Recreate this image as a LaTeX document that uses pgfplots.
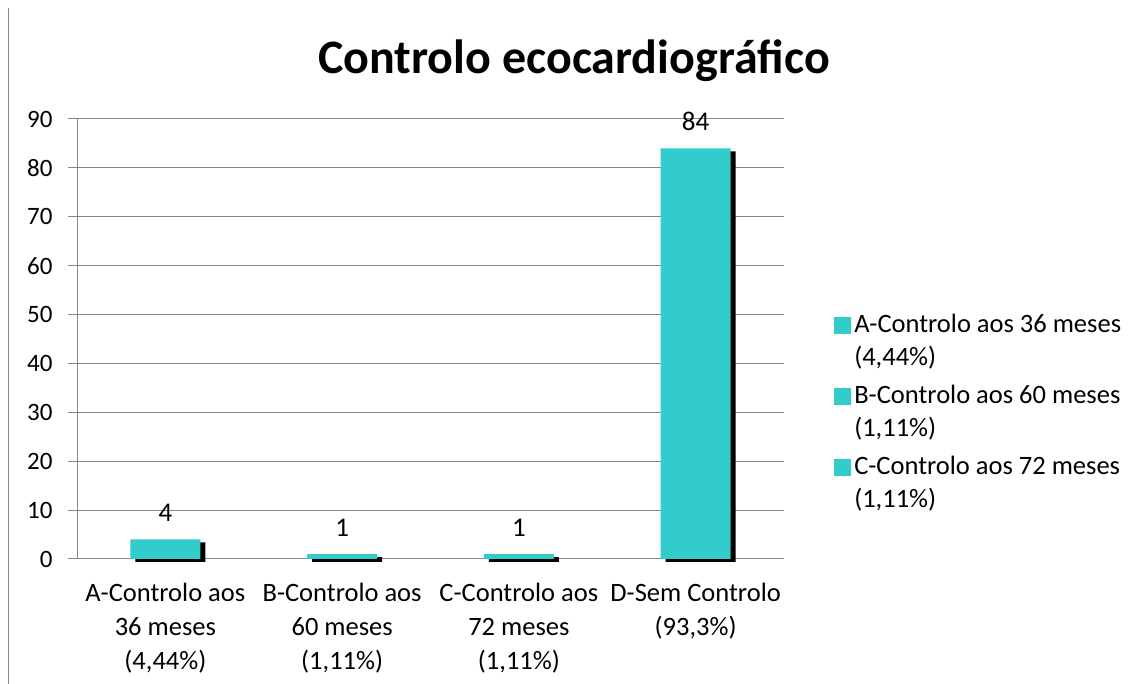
\documentclass[border=0pt]{standalone}
\usepackage{fontspec}
\setmainfont{Carlito}
\usepackage{pgfplots}
\pgfplotsset{compat=1.18}
\definecolor{barcol}{HTML}{33CCCC}
\definecolor{gridcol}{HTML}{868686}
\begin{document}
\begin{tikzpicture}[x=1pt,y=1pt]
\path[use as bounding box] (0,0) rectangle (1133,684);
\draw[gridcol, line width=1pt] (8,0) -- (8,676);
\node[font=\fontsize{48}{56}\selectfont\bfseries] at (574,623) {Controlo ecocardiográfico};
\begin{axis}[
  at={(77pt,125pt)}, anchor=south west,
  scale only axis, width=707pt, height=440pt,
  xmin=-0.5, xmax=3.5, ymin=0, ymax=90,
  ytick={0,10,...,90},
  xtick={0,1,2,3},
  xticklabels={{A-Controlo aos\\36 meses\\(4,44\%)},{B-Controlo aos\\60 meses\\(1,11\%)},{C-Controlo aos\\72 meses\\(1,11\%)},{D-Sem Controlo\\(93,3\%)}},
  xticklabel style={align=center, font=\fontsize{26.5}{34}\selectfont, yshift=-12pt},
  yticklabel style={font=\fontsize{25}{29}\selectfont, xshift=-12pt},
  /pgf/number format/assume math mode=true,
  ymajorgrids, major grid style={gridcol, line width=1pt},
  axis x line*=bottom, axis y line*=left,
  axis line style={gridcol, line width=1pt, -},
  xtick style={draw=none},
  ytick style={gridcol, line width=1pt},
  major tick length=9pt,
  tick align=outside,
  ybar, bar width=70pt, bar shift=0pt,
  clip=false,
  legend style={at={(1.066,0.565)}, anchor=north west, draw=none, fill=none,
    font=\fontsize{26.5}{33}\selectfont, cells={align=left}, row sep=14pt, column sep=2pt},
  legend cell align=left,
  legend image code/.code={\fill[barcol] (0pt,8pt) rectangle (16pt,24pt);},
]
\addplot[fill=black, draw=none, bar shift=5pt, yshift=-3pt, forget plot] coordinates {(0,4) (1,1) (2,1) (3,84)};
\addplot[fill=barcol, draw=none, forget plot,
  nodes near coords, every node near coord/.append style={font=\fontsize{27}{30}\selectfont, text=black, yshift=14pt},
  ] coordinates {(0,4) (1,1) (2,1) (3,84)};
\addlegendimage{}
\addlegendentry{A-Controlo aos 36 meses\\(4,44\%)}
\addlegendimage{}
\addlegendentry{B-Controlo aos 60 meses\\(1,11\%)}
\addlegendimage{}
\addlegendentry{C-Controlo aos 72 meses\\(1,11\%)}
\end{axis}
\end{tikzpicture}
\end{document}
